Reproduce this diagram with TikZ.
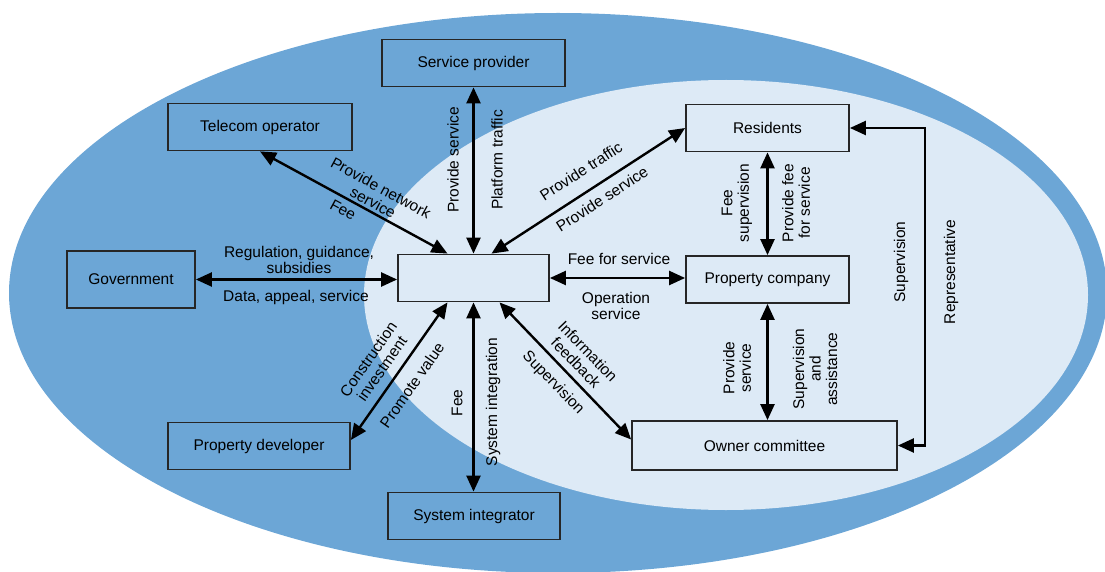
\documentclass[tikz,border=0pt]{standalone}
\usepackage{fontspec}
\setmainfont{Liberation Sans}
\usetikzlibrary{arrows.meta,calc}
\definecolor{outerblue}{RGB}{108,166,214}
\definecolor{innerblue}{RGB}{221,234,246}
\begin{document}
\begin{tikzpicture}[x=1pt,y=-1pt,
  box/.style={draw=black!85, line width=1.8pt, minimum height=47pt, inner sep=0pt, font=\fontsize{15.5}{16.5}\selectfont},
  lbl/.style={font=\fontsize{15.5}{16.5}\selectfont, align=center, inner sep=0pt},
  conn/.style={line width=2.4pt, {Triangle[length=16pt,width=14pt]}-{Triangle[length=16pt,width=14pt]}}]
\useasboundingbox (0,0) rectangle (1105,572);
\fill[outerblue] (558,293) ellipse [x radius=549pt, y radius=280pt];
\fill[innerblue] (726,295) ellipse [x radius=362pt, y radius=215pt];

\node[box, minimum width=183pt] (sp) at (473.5,63) {Service provider};
\node[box, minimum width=184pt] (tel) at (260,127) {Telecom operator};
\node[box, minimum width=163pt] (res) at (767.5,128) {Residents};
\node[box, minimum width=128pt, minimum height=57pt] (gov) at (131,279.5) {Government};
\node[box, minimum width=151pt] (ctr) at (473.5,278) {};
\node[box, minimum width=163pt] (pc) at (767.5,279.5) {Property company};
\node[box, minimum width=182pt] (dev) at (259,446) {Property developer};
\node[box, minimum width=265pt, minimum height=49pt] (oc) at (764.5,445.5) {Owner committee};
\node[box, minimum width=172pt] (si) at (474,516) {System integrator};

\draw[conn] (tel.south) -- ([xshift=-26pt]ctr.north);
\draw[conn] (sp.south) -- (ctr.north);
\draw[conn] (res.west) -- ([xshift=18pt]ctr.north);
\draw[conn] (gov.east) -- (gov.east -| ctr.west);
\draw[conn] (ctr.east) -- (ctr.east -| pc.west);
\draw[conn] (res.south) -- (pc.north);
\draw[conn] (pc.south) -- (pc.south |- oc.north);
\draw[conn] ([xshift=-26pt]ctr.south) -- ([yshift=6pt]dev.east);
\draw[conn] (ctr.south) -- (ctr.south |- si.north);
\draw[conn] ([xshift=26pt]ctr.south) -- ([yshift=6pt]oc.west);
\coordinate (rloop) at (925,128);
\draw[conn] (res.east) -- (rloop) |- (oc.east);

\node[lbl, rotate=-28.6] (l1) at (377,195) {Provide network\\service};
\node[lbl, rotate=-28.6] (l2) at (343,210) {Fee};
\node[lbl, rotate=90] (l3) at (453,160) {Provide service};
\node[lbl, rotate=90] (l4) at (497,160) {Platform traffic};
\node[lbl, rotate=32.9] (l5) at (581,171) {Provide traffic};
\node[lbl, rotate=32.9] (l6) at (602,199) {Provide service};
\node[lbl] (l7) at (299,260) {Regulation, guidance,\\subsidies};
\node[lbl] (l8) at (296,297) {Data, appeal, service};
\node[lbl] (l9) at (619,259) {Fee for service};
\node[lbl] (l10) at (616,306) {Operation\\service};
\node[lbl, rotate=90] (l11) at (737,203) {Fee\\supervision};
\node[lbl, rotate=90] (l12) at (796,203) {Provide fee\\for service};
\node[lbl, rotate=90] (l13) at (737,368) {Provide\\service};
\node[lbl, rotate=90] (l14) at (815,369) {Supervision\\and\\assistance};
\node[lbl, rotate=55] (l15) at (375,364) {Construction\\investment};
\node[lbl, rotate=55] (l16) at (412,385) {Promote value};
\node[lbl, rotate=90] (l17) at (457,403) {Fee};
\node[lbl, rotate=90] (l18) at (493,402) {System integration};
\node[lbl, rotate=-46] (l19) at (582,357) {Information\\feedback};
\node[lbl, rotate=-46] (l20) at (553,383) {Supervision};
\node[lbl, rotate=90] (l21) at (901,262) {Supervision};
\node[lbl, rotate=90] (l22) at (951,272) {Representative};
\end{tikzpicture}
\end{document}
